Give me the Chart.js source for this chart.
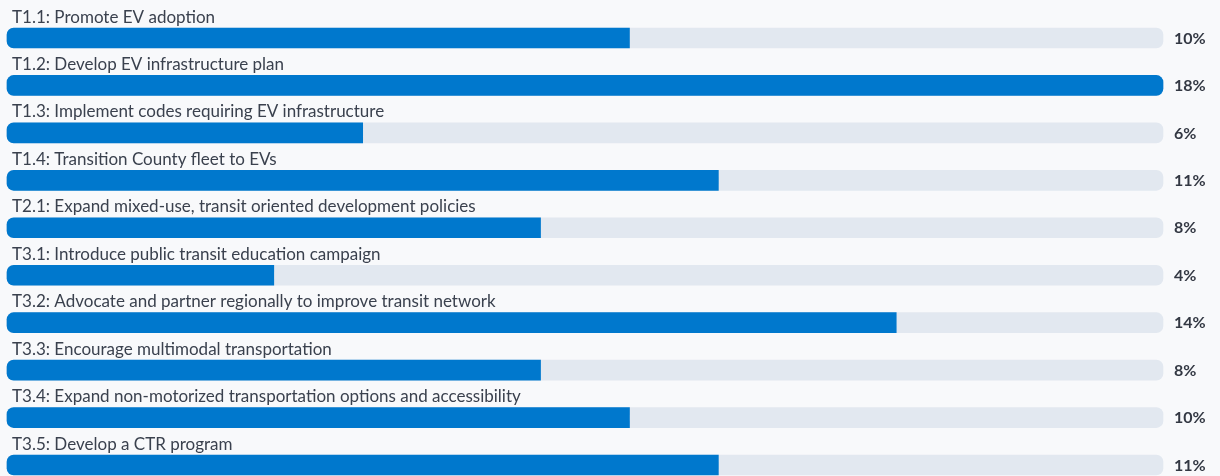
<!DOCTYPE html>
<html>
<head>
<meta charset="utf-8">
<script src="https://cdn.jsdelivr.net/npm/chart.js@4"></script>
<style>
  html, body { margin: 0; padding: 0; background: #f8f9fb; }
  #wrap { width: 1220px; height: 476px; position: relative; overflow: hidden; }
</style>
</head>
<body>
<div id="wrap"><canvas id="chart" width="1220" height="476"></canvas></div>
<script>
// Transportation actions and the number of responses for each
const actions = [
  'T1.1: Promote EV adoption',
  'T1.2: Develop EV infrastructure plan',
  'T1.3: Implement codes requiring EV infrastructure',
  'T1.4: Transition County fleet to EVs',
  'T2.1: Expand mixed-use, transit oriented development policies',
  'T3.1: Introduce public transit education campaign',
  'T3.2: Advocate and partner regionally to improve transit network',
  'T3.3: Encourage multimodal transportation',
  'T3.4: Expand non-motorized transportation options and accessibility',
  'T3.5: Develop a CTR program'
];
const responses = [7, 13, 4, 8, 6, 3, 10, 6, 7, 8];

const totalResponses = responses.reduce((a, b) => a + b, 0);
const maxResponses = Math.max(...responses);
const shareLabels = responses.map(v => Math.round(v / totalResponses * 100) + '%');
const trackValues = responses.map(() => maxResponses);

const FONT = 'Lato, "Noto Sans", sans-serif';

// Action names above each bar, share of responses to the right
const rowLabels = {
  id: 'rowLabels',
  afterDatasetsDraw(chart) {
    const { ctx, scales: { y }, chartArea } = chart;
    ctx.save();
    actions.forEach((name, i) => {
      const cy = y.getPixelForValue(i);
      ctx.fillStyle = '#3a414e';
      ctx.font = '17px ' + FONT;
      ctx.textAlign = 'left';
      ctx.textBaseline = 'alphabetic';
      ctx.fillText(name, 12, cy - 15.5);
      ctx.fillStyle = '#333843';
      ctx.font = 'bold 16px ' + FONT;
      ctx.textBaseline = 'middle';
      ctx.fillText(shareLabels[i], chartArea.right + 11, cy + 0.5);
    });
    ctx.restore();
  }
};

new Chart(document.getElementById('chart'), {
  type: 'bar',
  data: {
    labels: actions,
    datasets: [
      {
        data: responses,
        backgroundColor: '#0078cd',
        borderRadius: ctx => ctx.raw === maxResponses
          ? 7
          : { topLeft: 7, bottomLeft: 7, topRight: 0, bottomRight: 0 },
        borderSkipped: false,
        barThickness: 20,
        grouped: false,
        clip: false,
        order: 1
      },
      {
        data: trackValues,
        backgroundColor: '#e2e8f0',
        borderRadius: 7,
        borderSkipped: false,
        barThickness: 20,
        grouped: false,
        clip: false,
        order: 2
      }
    ]
  },
  options: {
    indexAxis: 'y',
    responsive: false,
    animation: false,
    layout: { padding: { top: 38, bottom: 11, left: 7, right: 57 } },
    plugins: { legend: { display: false }, tooltip: { enabled: false } },
    scales: {
      x: { display: false, min: 0, max: maxResponses },
      y: { display: false, offset: false }
    }
  },
  plugins: [rowLabels]
});
</script>
</body>
</html>
